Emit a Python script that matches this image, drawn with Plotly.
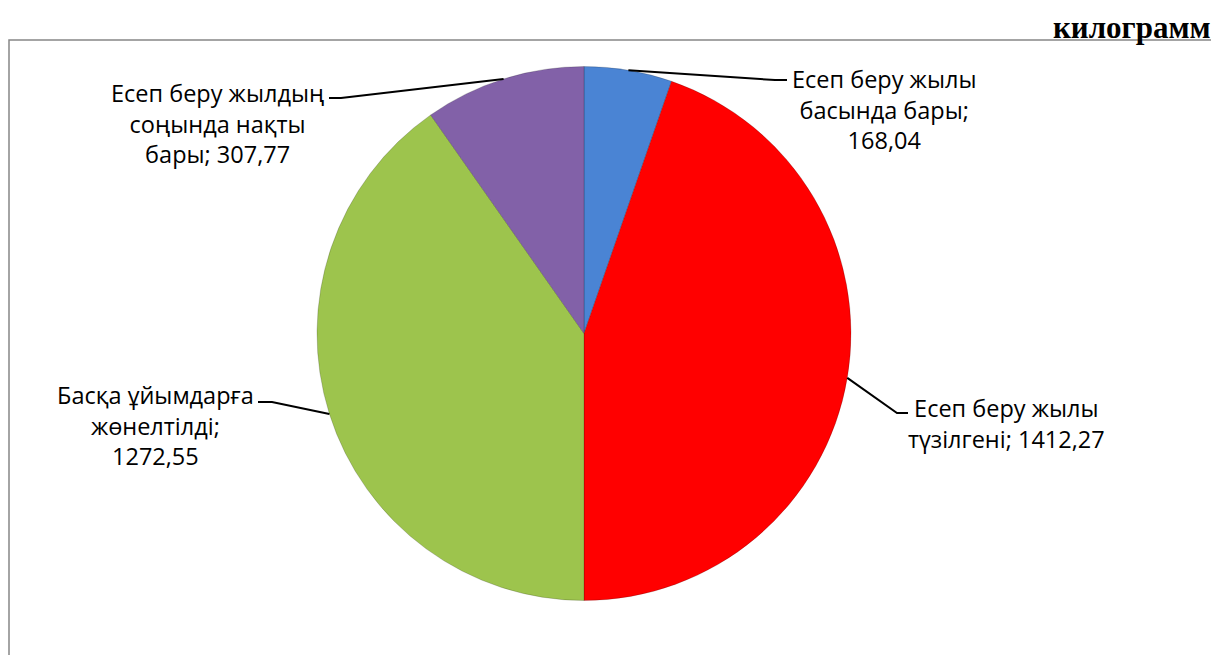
import math
import plotly.graph_objects as go

labels = ["Есеп беру жылы басында бары", "Есеп беру жылы түзілгені",
          "Басқа ұйымдарға жөнелтілді", "Есеп беру жылдың соңында нақты бары"]
values = [168.04, 1412.27, 1272.55, 307.77]
value_text = ["168,04", "1412,27", "1272,55", "307,77"]
label_lines = [
    "Есеп беру жылы<br>басында бары;<br>{v}",
    "Есеп беру жылы<br>түзілгені; {v}",
    "Басқа ұйымдарға<br>жөнелтілді;<br>{v}",
    "Есеп беру жылдың<br>соңында нақты<br>бары; {v}",
]
colors = ["#4A84D4", "#FF0000", "#9DC44D", "#8261A8"]
unit_label = "килограмм"

OFF = 8  # default page body margin
W, H = 1219 - OFF, 655 - OFF
cx, cy, R = 584, 333.5, 267

# label placement (window pixels): text centre, elbow end, elbow start
label_pos = [(884, 109), (1006, 423), (155, 425), (217, 124)]
elbows = [((787, 80), (775, 80)), ((908, 413), (897, 413)),
          ((258, 402), (272, 402)), ((329, 98), (341, 98))]


def px(x):
    return (x - OFF) / W


def py(y):
    return 1 - (y - OFF) / H


fig = go.Figure(go.Pie(
    labels=labels, values=values, sort=False, direction="clockwise",
    rotation=0, textinfo="none", hoverinfo="label+value",
    marker=dict(colors=colors, line=dict(color="rgba(0,0,0,0.18)", width=1)),
    domain=dict(x=[px(cx - R), px(cx + R)], y=[py(cy + R), py(cy - R)]),
    showlegend=False,
))

shapes = []
annotations = []
total = sum(values)
acc = 0.0
for i, v in enumerate(values):
    mid = (acc + v / 2) / total * 2 * math.pi
    acc += v
    ex = cx + R * math.sin(mid)
    ey = cy - R * math.cos(mid)
    (x0, y0), (x1, y1) = elbows[i]
    shapes.append(dict(type="path", xref="paper", yref="paper",
                       path=f"M {px(x0)} {py(y0)} L {px(x1)} {py(y1)} L {px(ex)} {py(ey)}",
                       line=dict(color="black", width=2)))
    tx, ty = label_pos[i]
    annotations.append(dict(x=px(tx), y=py(ty), xref="paper", yref="paper",
                            text=label_lines[i].format(v=value_text[i]),
                            showarrow=False, xanchor="center", yanchor="middle",
                            align="center",
                            font=dict(family="Open Sans", size=23.5, color="black")))

shapes.append(dict(type="rect", xref="paper", yref="paper",
                   x0=px(9), x1=px(1213), y0=py(720), y1=py(40),
                   line=dict(color="#878787", width=1.5), layer="below"))

annotations.append(dict(x=px(1213), y=py(27), xref="paper", yref="paper",
                        text=f"<b>{unit_label}</b>", showarrow=False,
                        xanchor="right", yanchor="middle",
                        font=dict(family="Liberation Serif", size=31, color="black")))

fig.update_layout(width=W, height=H, margin=dict(l=0, r=0, t=0, b=0),
                  paper_bgcolor="white", plot_bgcolor="white",
                  shapes=shapes, annotations=annotations)
fig.write_html("out.html")
